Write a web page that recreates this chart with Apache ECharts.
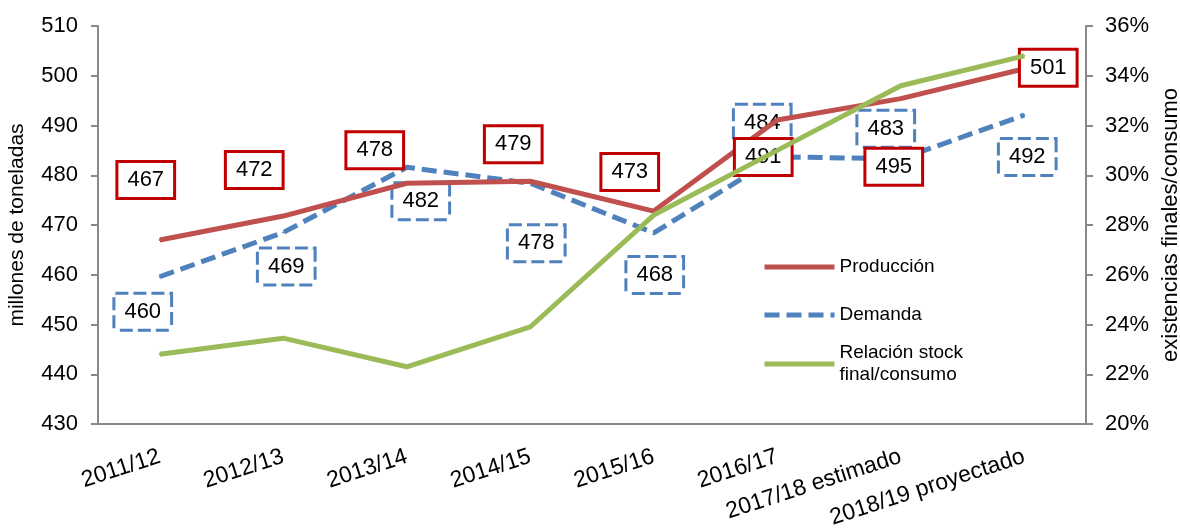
<!DOCTYPE html>
<html>
<head>
<meta charset="utf-8">
<script src="https://cdn.jsdelivr.net/npm/echarts@6/dist/echarts.min.js"></script>
<style>
  html, body { margin: 0; padding: 0; background: #fff; }
  #chart { width: 1180px; height: 529px; }
</style>
</head>
<body>
<div id="chart"></div>
<script>
// datos
var categories = ['2011/12', '2012/13', '2013/14', '2014/15', '2015/16', '2016/17', '2017/18 estimado', '2018/19 proyectado'];
var produccion = [467, 471.8, 478.4, 478.8, 472.8, 491.1, 495.4, 501.4];
var demanda = [459.6, 468.5, 481.6, 478.4, 468.4, 483.7, 483.3, 492.1];
var relacion = [22.8, 23.45, 22.3, 23.9, 28.4, 31.0, 33.6, 34.8];

// desplazamiento de las etiquetas respecto al punto (px)
var prodOffsets = [[-14, -60], [-29, -46], [-32, -33], [-17, -37], [-24, -39], [-14, 37], [-7, 68], [24, -1]];
var demOffsets = [[-17, 35], [3, 34], [14, 34], [6, 60], [1, 42], [-15, -34], [-15, -30], [3, 42]];

var FONT = 'Arial, "Liberation Sans", sans-serif';
var RED = '#C0504D', BLUE = '#4F81BD', GREEN = '#9BBB59', AXIS = '#898989';

function withOffsets(values, offsets) {
  return values.map(function (v, i) {
    return { value: v, label: { offset: offsets[i] } };
  });
}

var boxLabel = {
  show: true,
  position: 'inside',
  formatter: function (p) { return Math.round(p.value); },
  fontFamily: FONT,
  fontSize: 22,
  lineHeight: 24,
  color: '#000',
  backgroundColor: '#fff',
  borderWidth: 3,
  padding: [5, 9]
};

var legendText = { fontFamily: FONT, fontSize: 19, lineHeight: 22, color: '#000' };

var myChart = echarts.init(document.getElementById('chart'));

var option = {
  animation: false,
  textStyle: { fontFamily: FONT },
  grid: { left: 98, right: 94, top: 26, bottom: 105, outerBoundsMode: 'none' },
  legend: [
    {
      data: ['Producción', 'Demanda'],
      orient: 'vertical',
      left: 757,
      top: 251,
      itemWidth: 70,
      itemHeight: 14,
      itemGap: 26,
      itemStyle: { opacity: 0 },
      lineStyle: { width: 5 },
      textStyle: legendText
    },
    {
      data: ['Relación stock\nfinal/consumo'],
      orient: 'vertical',
      left: 757,
      top: 326,
      itemWidth: 70,
      itemHeight: 14,
      itemStyle: { opacity: 0 },
      lineStyle: { width: 5 },
      textStyle: Object.assign({}, legendText, { padding: [22, 0, 0, 0] })
    }
  ],
  xAxis: {
    type: 'category',
    data: categories,
    boundaryGap: true,
    axisLine: { lineStyle: { color: AXIS, width: 2 } },
    axisTick: { show: false },
    axisLabel: { rotate: 18, margin: 32, fontSize: 23, color: '#000', fontFamily: FONT, interval: 0 }
  },
  yAxis: [
    {
      type: 'value',
      min: 430,
      max: 510,
      interval: 10,
      name: 'millones de toneladas',
      nameLocation: 'middle',
      nameRotate: 90,
      nameGap: 70,
      nameTextStyle: { fontSize: 21, color: '#000', fontFamily: FONT },
      axisLine: { show: true, lineStyle: { color: AXIS, width: 2 } },
      axisTick: { show: true, length: 7, lineStyle: { color: AXIS, width: 2 } },
      axisLabel: { fontSize: 22, color: '#000', margin: 20, fontFamily: FONT },
      splitLine: { show: false }
    },
    {
      type: 'value',
      position: 'right',
      min: 20,
      max: 36,
      interval: 2,
      name: 'existencias finales/consumo',
      nameLocation: 'middle',
      nameRotate: 90,
      nameGap: 61,
      nameTextStyle: { fontSize: 22, color: '#000', fontFamily: FONT },
      axisLine: { show: true, lineStyle: { color: AXIS, width: 2 } },
      axisTick: { show: true, length: 7, lineStyle: { color: AXIS, width: 2 } },
      axisLabel: { fontSize: 22, color: '#000', margin: 19, fontFamily: FONT, formatter: '{value}%' },
      splitLine: { show: false }
    }
  ],
  series: [
    {
      name: 'Producción',
      type: 'line',
      yAxisIndex: 0,
      data: withOffsets(produccion, prodOffsets),
      symbol: 'circle',
      symbolSize: 2,
      itemStyle: { color: RED },
      lineStyle: { color: RED, width: 5 },
      label: Object.assign({}, boxLabel, { borderColor: '#C00000' }),
      z: 3
    },
    {
      name: 'Demanda',
      type: 'line',
      yAxisIndex: 0,
      data: withOffsets(demanda, demOffsets),
      symbol: 'circle',
      symbolSize: 2,
      itemStyle: { color: BLUE },
      lineStyle: { color: BLUE, width: 5, type: [15, 7] },
      label: Object.assign({}, boxLabel, { borderColor: BLUE, borderType: [13, 5] }),
      z: 2
    },
    {
      name: 'Relación stock\nfinal/consumo',
      type: 'line',
      yAxisIndex: 1,
      data: relacion,
      symbol: 'circle',
      symbolSize: 2,
      itemStyle: { color: GREEN },
      lineStyle: { color: GREEN, width: 5 },
      z: 4
    }
  ]
};

myChart.setOption(option);
</script>
</body>
</html>
